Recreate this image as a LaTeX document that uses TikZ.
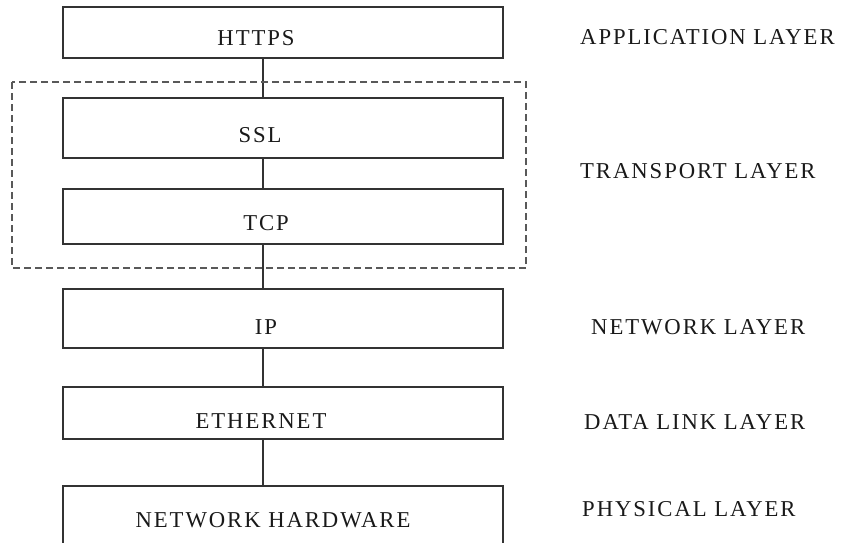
\documentclass[tikz,border=0pt]{standalone}
\usepackage{fontspec}
\setmainfont{Liberation Serif}[LetterSpace=8.5]
\usepackage{tikz}

\begin{document}
\begin{tikzpicture}[x=1pt,y=-1pt,
        box/.style={draw=black!80,line width=1.6pt,rectangle,minimum width=440pt},
        tag/.style={font=\fontsize{22.7}{26}\selectfont,text=black!90,
            text height=15pt,text depth=0pt,inner sep=0pt},
        layer/.style={tag,anchor=west},
        wire/.style={draw=black!80,line width=1.6pt},
        group/.style={draw=black!65,line width=1.5pt,dash pattern=on 7pt off 4pt}]
    \useasboundingbox (0,0) rectangle (845,542);
    \coordinate (spine) at (263,0);

    % protocol stack
    \node (https) [box, minimum height=51pt] at (283,32.5) {};
    \node (ssl)   [box, minimum height=60pt] at (283,128) {};
    \node (tcp)   [box, minimum height=55pt] at (283,216.5) {};
    \node (ip)    [box, minimum height=59pt] at (283,318.5) {};
    \node (eth)   [box, minimum height=52pt] at (283,413) {};
    \node (hw)    [box, minimum height=78pt] at (283,525) {};

    \node (httpsTxt) [tag] at (256,37.5) {HTTPS};
    \node (sslTxt)   [tag] at (260,134.5) {SSL};
    \node (tcpTxt)   [tag] at (266,223) {TCP};
    \node (ipTxt)    [tag] at (266,326.5) {IP};
    \node (ethTxt)   [tag] at (261,421) {ETHERNET};
    \node (hwTxt)    [tag] at (273,519.5) {NETWORK HARDWARE};

    % links between the layers
    \draw [wire] (https.south -| spine) -- (ssl.north -| spine);
    \draw [wire] (ssl.south -| spine) -- (tcp.north -| spine);
    \draw [wire] (tcp.south -| spine) -- (ip.north -| spine);
    \draw [wire] (ip.south -| spine) -- (eth.north -| spine);
    \draw [wire] (eth.south -| spine) -- (hw.north -| spine);

    % SSL + TCP together
    \draw [group] (12,82) rectangle (526,268);

    % layer names
    \node (app)  [layer] at (580,37)  {APPLICATION LAYER};
    \node (trn)  [layer] at (580,171) {TRANSPORT LAYER};
    \node (net)  [layer] at (591,327) {NETWORK LAYER};
    \node (link) [layer] at (584,422) {DATA LINK LAYER};
    \node (phy)  [layer] at (582,509) {PHYSICAL LAYER};
\end{tikzpicture}
\end{document}
